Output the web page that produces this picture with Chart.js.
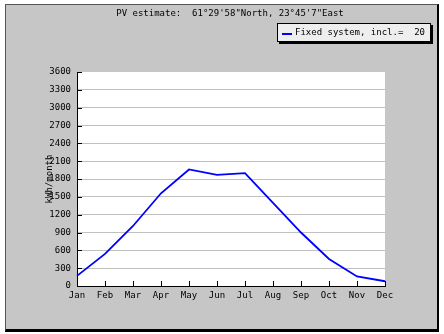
<!DOCTYPE html>
<html lang="en">
<head>
<meta charset="UTF-8">
<title>PV estimate</title>
<script src="https://cdn.jsdelivr.net/npm/chart.js"></script>
<style>
  body { margin: 0; background: #fff; width: 444px; height: 334px; position: relative; overflow: hidden; }
  #frame { position: absolute; left: 5px; top: 4px; width: 431px; height: 324px; background: #c6c6c6;
           border-left: 1px solid #555; border-top: 1px solid #555; border-right: 2px solid #000; border-bottom: 3px solid #000; }
  #box { position: absolute; left: 0; top: 0; width: 444px; height: 334px; }
</style>
</head>
<body>
<div id="frame"></div>
<div id="box"><canvas id="pv"></canvas></div>

<script>
// values
const titleText = "PV estimate:  61\u00b029'58\"North, 23\u00b045'7\"East";
const months = ["Jan", "Feb", "Mar", "Apr", "May", "Jun", "Jul", "Aug", "Sep", "Oct", "Nov", "Dec"];
const pvValues = [170, 540, 1010, 1560, 1960, 1870, 1900, 1400, 900, 455, 160, 80];
const seriesLabel = "Fixed system, incl.=  20";
const yUnit = "kWh/month";
const yMin = 0, yMax = 3600, yStep = 300;

Chart.defaults.font.family = "'DejaVu Sans Mono', monospace";
Chart.defaults.font.size = 9;
Chart.defaults.color = "#000";

// white plot area, inner tick marks, title and boxed legend
const decor = {
    id: "decor",
    beforeDraw(chart) {
        const a = chart.chartArea, ctx = chart.ctx;
        ctx.save();
        ctx.fillStyle = "#fff";
        ctx.fillRect(a.left, a.top, a.right - a.left, a.bottom - a.top);
        ctx.restore();
    },
    afterDraw(chart) {
        const a = chart.chartArea, ctx = chart.ctx;
        const xs = chart.scales.x, ys = chart.scales.y;
        ctx.save();
        ctx.strokeStyle = "#000";
        ctx.lineWidth = 1;
        ctx.beginPath();
        ys.ticks.forEach(t => {
            const y = Math.round(ys.getPixelForValue(t.value)) + 0.5;
            ctx.moveTo(a.left, y); ctx.lineTo(a.left + 5, y);
        });
        months.forEach((m, i) => {
            const x = Math.round(xs.getPixelForValue(i)) + 0.5;
            ctx.moveTo(x, a.bottom); ctx.lineTo(x, a.bottom - 5);
        });
        ctx.stroke();

        // title
        ctx.fillStyle = "#000";
        ctx.font = "9px 'DejaVu Sans Mono'";
        ctx.textAlign = "center";
        ctx.textBaseline = "middle";
        ctx.fillText(titleText, 230, 14);

        // legend box with shadow
        const ds = chart.data.datasets[0];
        const bx = 277, by = 23, bw = 154, bh = 19;
        ctx.fillStyle = "#000";
        ctx.fillRect(bx + 2, by + 2, bw, bh);
        ctx.fillStyle = "#eeeeee";
        ctx.fillRect(bx, by, bw, bh);
        ctx.strokeStyle = "#000";
        ctx.strokeRect(bx + 0.5, by + 0.5, bw - 1, bh - 1);
        ctx.strokeStyle = ds.borderColor;
        ctx.lineWidth = 2;
        ctx.beginPath();
        ctx.moveTo(bx + 5, by + 11); ctx.lineTo(bx + 15, by + 11);
        ctx.stroke();
        ctx.fillStyle = "#000";
        ctx.textAlign = "left";
        ctx.fillText(ds.label, bx + 18, by + 10);
        ctx.restore();
    }
};

new Chart(document.getElementById("pv"), {
    type: "line",
    data: {
        labels: months,
        datasets: [{
            label: seriesLabel,
            data: pvValues,
            borderColor: "#0000ff",
            borderWidth: 1.8,
            pointRadius: 0,
            tension: 0,
            fill: false
        }]
    },
    options: {
        responsive: true,
        maintainAspectRatio: false,
        animation: false,
        layout: { padding: { top: 72, right: 59, bottom: 0, left: 0 } },
        plugins: {
            legend: { display: false },
            title: { display: false },
            tooltip: { enabled: false }
        },
        scales: {
            x: {
                offset: false,
                grid: { display: false, drawTicks: false },
                border: { color: "#000", width: 1 },
                ticks: { padding: 4, maxRotation: 0, autoSkip: false },
                afterFit(s) { s.height = 48; }
            },
            y: {
                min: yMin,
                max: yMax,
                grid: {
                    drawTicks: false,
                    color: c => c.tick && c.tick.value === yMax ? "rgba(0,0,0,0)" : "#c0c0c0"
                },
                border: { color: "#000", width: 1 },
                ticks: { stepSize: yStep, padding: 6, callback: v => String(v) },
                title: { display: true, text: yUnit, padding: { top: 44, bottom: 0 } },
                afterFit(s) { s.width = 77; }
            }
        }
    },
    plugins: [decor]
});
</script>
</body>
</html>
